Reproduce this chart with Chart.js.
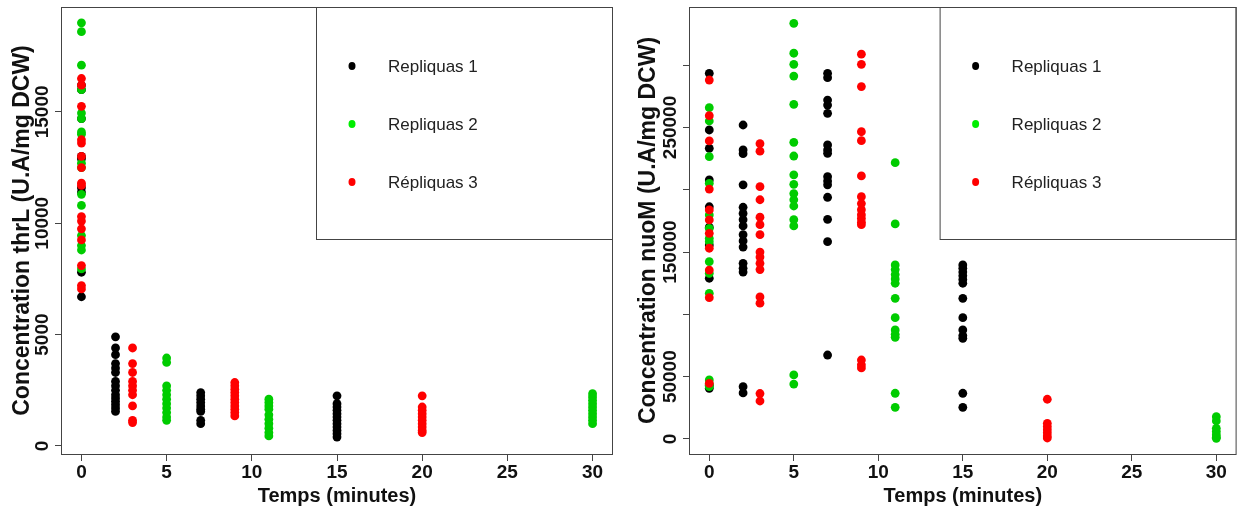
<!DOCTYPE html>
<html>
<head>
<meta charset="utf-8">
<script src="https://cdn.jsdelivr.net/npm/chart.js@4.4.1/dist/chart.umd.min.js"></script>
<style>
  html, body { margin: 0; padding: 0; background: #fff; }
  #wrap { position: relative; width: 1241px; height: 510px; }
  canvas { position: absolute; top: 0; }
</style>
</head>
<body>
<div id="wrap">
  <canvas id="left" width="620" height="510" style="left:0"></canvas>
  <canvas id="right" width="621" height="510" style="left:620px"></canvas>
</div>
<script>
// sampling times (minutes) of each replicate
const rep1Times = [0, 2, 7, 15];
const rep2Times = [0, 5, 11, 30];
const rep3Times = [0, 3, 9, 20];

// thrL concentration, one inner array per sampling time
const thrL_rep1 = [
  [16200, 16000, 14700, 13000, 12900, 11600, 11400, 7800, 6700],
  [4900, 4400, 4100, 3700, 3500, 3300, 2900, 2700, 2500, 2300, 2150, 2000, 1850, 1700, 1550],
  [2400, 2250, 2100, 1950, 1800, 1650, 1550, 1150, 1000],
  [2250, 1900, 1750, 1600, 1450, 1300, 1150, 1000, 850, 700, 550, 400]
];
const thrL_rep2 = [
  [19000, 18600, 17100, 16000, 14950, 14700, 14100, 14000, 12700, 12500, 11300, 10800, 9450, 9000, 8800, 7950],
  [3950, 3750, 2700, 2500, 2300, 2100, 1900, 1700, 1500, 1300, 1150],
  [2100, 1950, 1800, 1650, 1400, 1200, 1000, 800, 600, 450],
  [2350, 2200, 2050, 1900, 1750, 1600, 1450, 1300, 1150, 1000]
];
const thrL_rep3 = [
  [16500, 16200, 15250, 13750, 13600, 13000, 12500, 11800, 11700, 10300, 10100, 9750, 9250, 8100, 7200, 7050],
  [4400, 3700, 3300, 2900, 2700, 2500, 2300, 1800, 1150, 1050],
  [2850, 2700, 2550, 2400, 2250, 2100, 1950, 1800, 1650, 1500, 1350],
  [2250, 1750, 1600, 1450, 1300, 1150, 1000, 850, 700, 600]
];

// nuoM concentration
const nuoM_rep1 = [
  [293500, 248000, 233300, 207900, 186400, 170000, 155700, 129000, 43000, 40700],
  [252000, 232000, 229000, 204000, 186000, 181000, 176000, 171000, 164000, 159000, 154000, 141000, 137000, 134000, 42000, 37000],
  [293500, 290000, 272000, 268000, 261400, 236000, 232000, 229300, 210500, 207000, 204000, 194000, 176300, 158400, 67400],
  [139700, 137000, 134000, 131000, 128000, 125000, 112900, 97400, 87500, 83000, 80800, 36700, 25400]
];
const nuoM_rep2 = [
  [265900, 255200, 226600, 205200, 179800, 169100, 161100, 158400, 142300, 133000, 116900, 47400, 44000, 42000],
  [333600, 309600, 300700, 291300, 268600, 238100, 227100, 212000, 204400, 197000, 192000, 187000, 176000, 171000, 51400, 44100],
  [221800, 172600, 139700, 136000, 132000, 128500, 125000, 112900, 97400, 87500, 84000, 81600, 36700, 25400],
  [17900, 14500, 8600, 6000, 3500, 1500, 500]
];
const nuoM_rep3 = [
  [288100, 259500, 239200, 200600, 183800, 175800, 165100, 153100, 135600, 113400, 44700],
  [237000, 231000, 202500, 192000, 178000, 172000, 164000, 150000, 146000, 141000, 136000, 114000, 109000, 36500, 30500],
  [308800, 300700, 282800, 246600, 239400, 211100, 194500, 189000, 184000, 180000, 177000, 174000, 172000, 63400, 59500, 57000],
  [31900, 12600, 10000, 7500, 5000, 2500, 800]
];

const xTicks = [0, 5, 10, 15, 20, 25, 30];
const thrLTicks = [0, 5000, 10000, 15000];
const nuoMTicks = [0, 50000, 100000, 150000, 200000, 250000, 300000];
const nuoMTickLabels = [0, 50000, 150000, 250000]; // R dropped the others
const seriesLabels = ['Repliquas 1', 'Repliquas 2', 'Répliquas 3'];

const FONT = "'Liberation Sans', Arial, sans-serif";
const pointColors = ['#000000', '#00cc00', '#ff0000'];
const legendColors = ['#000000', '#00ee00', '#ff0000'];

function toPoints(times, groups) {
  const pts = [];
  groups.forEach((vals, i) => vals.forEach(v => pts.push({ x: times[i], y: v })));
  return pts;
}

function textWidth(text, font) {
  const c = document.createElement('canvas').getContext('2d');
  c.font = font;
  return c.measureText(text).width;
}

// plot frame + legend box inside the top right corner
const frameLegend = {
  id: 'frameLegend',
  afterDraw(chart) {
    const { ctx, chartArea: a } = chart;
    ctx.save();
    ctx.strokeStyle = '#444';
    ctx.lineWidth = 1;
    ctx.strokeRect(a.left + 0.5, a.top + 0.5, a.right - a.left - 1, a.bottom - a.top);
    const bx = a.right - 297;
    ctx.strokeRect(bx + 0.5, a.top + 0.5, a.right - bx - 1, 232);
    ctx.font = '17px ' + FONT;
    ctx.textBaseline = 'middle';
    seriesLabels.forEach((lab, i) => {
      const y = a.top + 59 + i * 58;
      ctx.fillStyle = legendColors[i];
      ctx.beginPath();
      ctx.ellipse(bx + 36, y, 3.5, 4, 0, 0, Math.PI * 2);
      ctx.fill();
      ctx.fillStyle = '#222';
      ctx.fillText(lab, bx + 72, y + 1);
    });
    ctx.restore();
  }
};

function makeChart(id, series, yMin, yMax, yTicks, yShown, yTitle, g) {
  const tickFont = { family: FONT, size: 19, weight: 'bold' };
  const widest = Math.max(...yShown.map(v => textWidth(String(v), 'bold 19px ' + FONT)));
  const datasets = series.map((s, i) => ({
    label: seriesLabels[i],
    data: toPoints(s.times, s.values),
    backgroundColor: pointColors[i],
    borderWidth: 0,
    pointRadius: 4.4,
    order: 2 - i
  }));
  return new Chart(document.getElementById(id), {
    type: 'scatter',
    data: { datasets },
    plugins: [frameLegend],
    options: {
      responsive: false,
      animation: false,
      devicePixelRatio: 1,
      layout: { padding: { top: 7, right: g.right, left: 0, bottom: 0 } },
      plugins: { legend: { display: false }, tooltip: { enabled: false } },
      scales: {
        x: {
          type: 'linear',
          min: -1.2, max: 31.2,
          afterBuildTicks: s => { s.ticks = xTicks.map(v => ({ value: v })); },
          afterFit: s => { s.height = 56; },
          grid: { drawOnChartArea: false, drawTicks: true, tickLength: 7, color: '#444' },
          border: { display: false },
          ticks: { font: tickFont, color: '#111', padding: 0, maxRotation: 0 },
          title: {
            display: true, text: 'Temps (minutes)', color: '#111',
            font: { family: FONT, size: 20, weight: 'bold' },
            padding: { top: 0, bottom: 2 }
          }
        },
        y: {
          type: 'linear',
          min: yMin, max: yMax,
          afterBuildTicks: s => { s.ticks = yTicks.map(v => ({ value: v })); },
          afterFit: s => { s.width = g.yWidth; },
          grid: { drawOnChartArea: false, drawTicks: true, tickLength: 6, color: '#444' },
          border: { display: false },
          ticks: {
            font: tickFont, color: '#111',
            minRotation: 90, maxRotation: 90,
            crossAlign: 'center',
            padding: g.yWidth - 6 - widest / 2 - g.labelX,
            callback: v => (yShown.includes(v) ? String(v) : '')
          },
          title: {
            display: true, text: yTitle, color: '#111',
            font: { family: FONT, size: 23, weight: 'bold' },
            padding: { top: g.titlePad, bottom: 0 }
          }
        }
      }
    }
  });
}

makeChart('left', [
  { times: rep1Times, values: thrL_rep1 },
  { times: rep2Times, values: thrL_rep2 },
  { times: rep3Times, values: thrL_rep3 }
], -360, 19710, thrLTicks, thrLTicks, 'Concentration thrL (U.A/mg DCW)',
  { yWidth: 61, right: 7, labelX: 43, titlePad: 9 });

makeChart('right', [
  { times: rep1Times, values: nuoM_rep1 },
  { times: rep2Times, values: nuoM_rep2 },
  { times: rep3Times, values: nuoM_rep3 }
], -12040, 346700, nuoMTicks, nuoMTickLabels, 'Concentration nuoM (U.A/mg DCW)',
  { yWidth: 69, right: 1, labelX: 50.5, titlePad: 15 });
</script>
</body>
</html>
